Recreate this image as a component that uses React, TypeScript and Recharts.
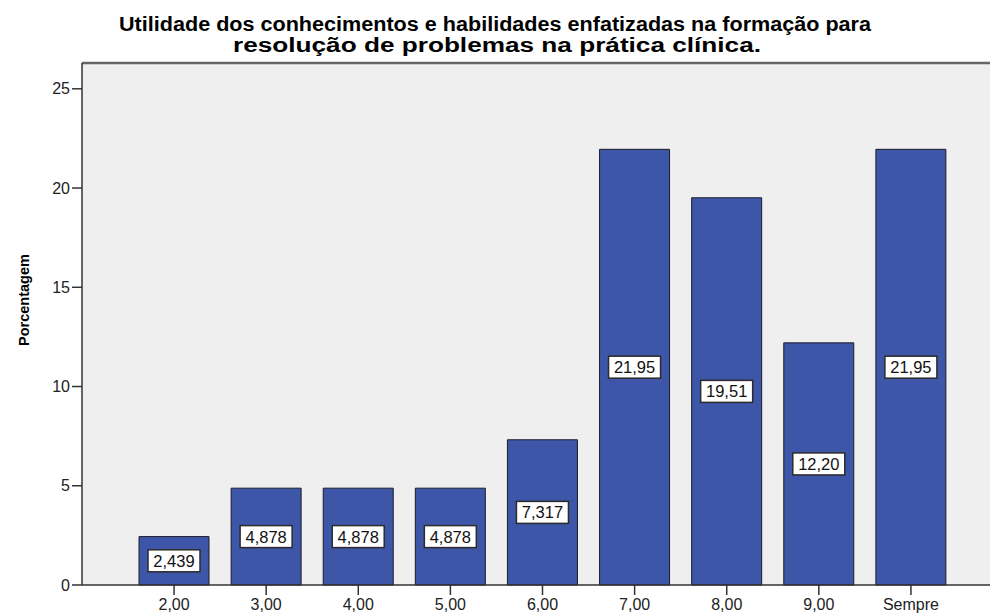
import { BarChart, Bar, XAxis, YAxis, CartesianGrid, ReferenceLine, LabelList } from "recharts";

const categories = ["2,00", "3,00", "4,00", "5,00", "6,00", "7,00", "8,00", "9,00", "Sempre"];
const percentages = [2.439, 4.878, 4.878, 4.878, 7.317, 21.95, 19.51, 12.2, 21.95];
const yTicks = [0, 5, 10, 15, 20, 25];
const yMax = 26.3;

const titleLines = [
  "Utilidade dos conhecimentos e habilidades enfatizadas na formação para",
  "resolução de problemas na prática clínica.",
];
const yLabel = "Porcentagem";

const data = categories.map((cat, i) => ({ cat, value: percentages[i] }));

const FONT = "Arial, 'Liberation Sans', sans-serif";

// SPSS-style value boxes: 4 significant digits, decimal comma
const fmt = (v: number) => (v >= 10 ? v.toFixed(2) : v.toFixed(3)).replace(".", ",");

function ValueBox(props: any) {
  const { x, y, width, height, value } = props;
  const cx = x + width / 2;
  const cy = y + height / 2;
  const w = 52;
  const h = 22;
  return (
    <g>
      <rect x={cx - w / 2} y={cy - h / 2} width={w} height={h} fill="#ffffff" stroke="#2b2b2b" strokeWidth={1.5} />
      <text x={cx} y={cy + 6} textAnchor="middle" fontFamily={FONT} fontSize={16.5} fill="#111">
        {fmt(value)}
      </text>
    </g>
  );
}

export default function App() {
  return (
    <div style={{ position: "absolute", left: 0, top: 0, width: 990, height: 613, background: "#fff" }}>
      <BarChart
        width={990}
        height={613}
        data={data}
        margin={{ top: 63, right: 0, bottom: 0, left: 0 }}
      >
        <CartesianGrid horizontal={false} vertical={false} fill="#efefef" />
        <ReferenceLine y={yMax} stroke="#666" strokeWidth={2.5} ifOverflow="extendDomain" />
        <XAxis
          dataKey="cat"
          interval={0}
          height={28}
          padding={{ left: 46, right: 33 }}
          tickSize={10}
          tickMargin={4}
          axisLine={{ stroke: "#333", strokeWidth: 1.5 }}
          tickLine={{ stroke: "#333", strokeWidth: 1.5 }}
          tick={{ fontSize: 16, fill: "#222", fontFamily: FONT }}
        />
        <YAxis
          width={82}
          domain={[0, yMax]}
          ticks={yTicks}
          tickSize={10}
          tickMargin={2}
          axisLine={{ stroke: "#333", strokeWidth: 1.5 }}
          tickLine={{ stroke: "#333", strokeWidth: 1.5 }}
          tick={{ fontSize: 16, fill: "#222", fontFamily: FONT }}
        />
        <Bar dataKey="value" fill="#3d56a8" stroke="#1c1c2a" strokeWidth={1} barSize={70} isAnimationActive={false}>
          <LabelList dataKey="value" content={ValueBox} />
        </Bar>
      </BarChart>
      <svg
        width={990}
        height={613}
        style={{ position: "absolute", left: 0, top: 0, pointerEvents: "none" }}
      >
        <text x={495} y={31} textAnchor="middle" fontFamily={FONT} fontWeight="bold" fontSize={20} fill="#000" textLength={752} lengthAdjust="spacingAndGlyphs">
          {titleLines[0]}
        </text>
        <text x={497} y={52} textAnchor="middle" fontFamily={FONT} fontWeight="bold" fontSize={20} fill="#000" textLength={528} lengthAdjust="spacingAndGlyphs">
          {titleLines[1]}
        </text>
        <text x={29} y={300} textAnchor="middle" fontFamily={FONT} fontWeight="bold" fontSize={14.5} fill="#000" transform="rotate(-90, 29, 300)">
          {yLabel}
        </text>
      </svg>
    </div>
  );
}
